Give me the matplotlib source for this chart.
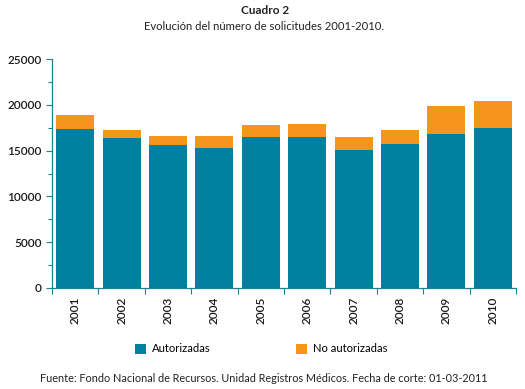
import matplotlib
matplotlib.use("Agg")
import matplotlib.pyplot as plt
from matplotlib.patches import Patch
from matplotlib.ticker import MultipleLocator, FixedLocator

plt.rcParams['font.family'] = ['Lato', 'DejaVu Sans']

years = ['2001', '2002', '2003', '2004', '2005', '2006', '2007', '2008', '2009', '2010']
autorizadas = [17400, 16400, 15600, 15300, 16500, 16500, 15100, 15700, 16800, 17500]
no_autorizadas = [1500, 900, 1000, 1300, 1300, 1400, 1400, 1600, 3100, 2900]

teal = '#00809e'
orange = '#f7941d'
axis_col = '#1f7f96'

fig = plt.figure(figsize=(5.25, 3.89), dpi=100)
ax = fig.add_axes([52/525, 101/389, 464/525, 229/389])

x = list(range(len(years)))
ax.bar(x, autorizadas, width=0.82, color=teal, edgecolor='none')
ax.bar(x, no_autorizadas, width=0.82, bottom=autorizadas, color=orange, edgecolor='none')

ax.set_xlim(-0.5, len(years) - 0.5)
ax.set_ylim(0, 25000)
ax.yaxis.set_major_locator(MultipleLocator(5000))
ax.yaxis.set_minor_locator(MultipleLocator(2500))
ax.xaxis.set_major_locator(FixedLocator([i - 0.5 for i in range(len(years) + 1)]))
ax.xaxis.set_major_formatter(plt.NullFormatter())
ax.xaxis.set_minor_locator(FixedLocator(x))
ax.set_xticklabels(years, minor=True, rotation=90, fontsize=8.5, color='#1a1a1a', fontweight='semibold')
ax.tick_params(axis='x', which='minor', length=0, pad=6)
ax.tick_params(axis='x', which='major', length=4, color=axis_col, width=0.8)
ax.tick_params(axis='y', which='both', color=axis_col, width=0.8, labelsize=8.5, labelcolor='#1a1a1a')
ax.tick_params(axis='y', which='major', length=4)
ax.tick_params(axis='y', which='minor', length=3)
for lbl in ax.get_yticklabels():
    lbl.set_fontweight('semibold')

for s in ['top', 'right']:
    ax.spines[s].set_visible(False)
for s in ['left', 'bottom']:
    ax.spines[s].set_color(axis_col)
    ax.spines[s].set_linewidth(0.9)

fig.text(0.505, 1 - 10/389, 'Cuadro 2', ha='center', va='center', fontsize=8.5, fontweight='bold', color='#222222')
fig.text(0.503, 1 - 26/389, 'Evolución del número de solicitudes 2001-2010.', ha='center', va='center', fontsize=8.1, color='#222222')

handles = [Patch(facecolor=teal, edgecolor='none'), Patch(facecolor=orange, edgecolor='none')]
fig.legend(handles, ['Autorizadas', 'No autorizadas'], loc='center', bbox_to_anchor=(261/525, 1 - 349/389),
           ncol=2, frameon=False, fontsize=8.1, handlelength=1.0, handleheight=1.0,
           columnspacing=7.6, handletextpad=0.5)

fig.text(0.502, 1 - 379/389, 'Fuente: Fondo Nacional de Recursos. Unidad Registros Médicos. Fecha de corte: 01-03-2011',
         ha='center', va='center', fontsize=7.8, color='#222222')

fig.savefig('out.png', dpi=100)
